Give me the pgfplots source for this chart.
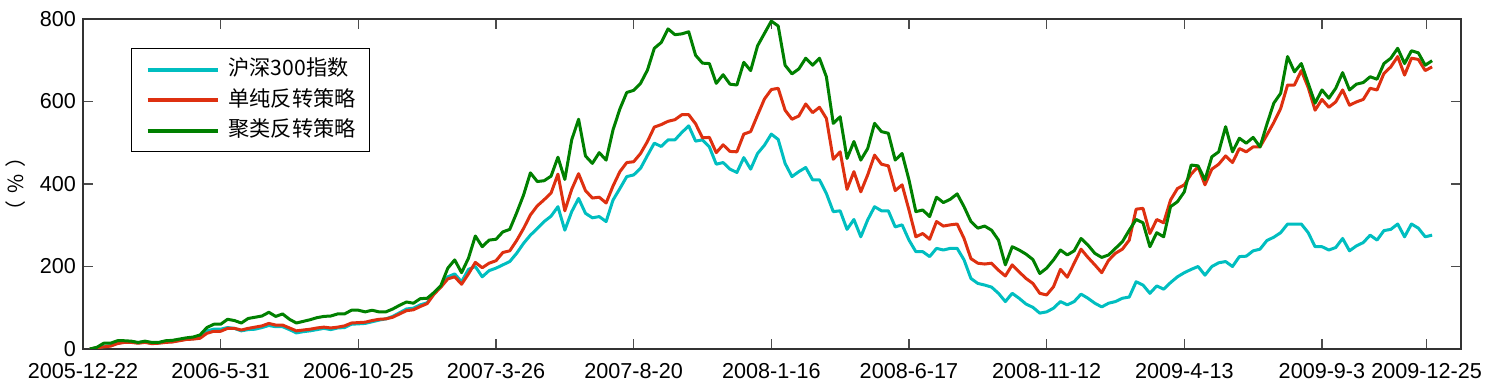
\documentclass[border=0pt]{standalone}
\usepackage{pgfplots}
\usepackage{pgfplotstable}
\pgfplotsset{compat=1.18}
\usepackage{fontspec}
\setmainfont{Liberation Sans}
\newfontfamily\cjk{Noto Sans CJK SC}
\definecolor{cyanl}{RGB}{0,190,192}
\definecolor{redl}{RGB}{222,48,16}
\definecolor{greenl}{RGB}{0,128,0}
\pgfplotstableread{
i cy rd gr
1 0 0 0
2 3 3 4
3 6 5 14
4 8 7 14
5 14 13 20
6 17 16 20
7 17 16 19
8 15 14 16
9 17 16 19
10 14 13 16
11 15 14 16
12 17 16 20
13 18 17 21
14 21 20 24
15 24 23 27
16 25 24 29
17 28 26 34
18 44 38 52
19 48 43 60
20 48 43 60
21 52 50 72
22 50 50 69
23 44 46 63
24 47 50 74
25 48 53 77
26 52 56 80
27 57 62 89
28 54 58 79
29 54 58 85
30 47 51 72
31 39 44 63
32 42 46 67
33 44 48 71
34 47 51 76
35 50 53 79
36 47 51 80
37 51 53 85
38 52 56 85
39 60 63 94
40 61 64 94
41 62 65 90
42 66 69 94
43 70 72 90
44 73 73 90
45 79 77 97
46 88 85 106
47 97 93 114
48 99 95 111
49 107 103 122
50 112 110 123
51 135 133 137
52 152 150 154
53 175 170 196
54 182 175 216
55 163 157 185
56 193 182 220
57 200 210 274
58 175 197 248
59 190 208 264
60 196 214 266
61 204 234 284
62 212 238 290
63 232 263 330
64 256 292 373
65 276 325 427
66 292 347 406
67 309 362 408
68 322 378 419
69 345 424 465
70 288 335 411
71 333 387 507
72 365 425 557
73 329 384 468
74 318 366 450
75 321 368 476
76 309 354 458
77 361 395 531
78 389 430 582
79 418 452 622
80 422 454 627
81 438 474 644
82 469 503 676
83 499 538 729
84 491 544 743
85 507 552 776
86 507 556 762
87 525 568 764
88 541 568 769
89 504 546 712
90 507 512 693
91 490 513 692
92 448 476 644
93 452 495 665
94 436 479 642
95 428 478 640
96 464 521 695
97 436 527 675
98 474 567 735
99 494 606 765
100 521 629 795
101 508 632 783
102 450 579 688
103 418 557 667
104 430 565 679
105 440 594 705
106 410 573 688
107 410 586 705
108 377 559 660
109 333 460 547
110 335 478 563
111 290 387 462
112 314 430 503
113 272 381 458
114 313 422 486
115 345 470 547
116 335 448 527
117 335 444 523
118 296 384 458
119 301 398 474
120 264 337 410
121 236 272 333
122 236 280 337
123 224 266 321
124 244 309 368
125 240 298 355
126 244 301 363
127 244 303 376
128 216 268 345
129 171 219 309
130 159 208 293
131 155 206 298
132 150 208 288
133 135 191 264
134 115 177 204
135 135 204 248
136 123 187 240
137 109 171 230
138 101 159 217
139 87 135 183
140 90 131 196
141 99 151 216
142 115 193 240
143 107 174 228
144 115 208 238
145 133 242 268
146 123 222 252
147 111 204 232
148 102 185 222
149 111 215 228
150 115 232 244
151 123 242 260
152 126 264 288
153 163 339 314
154 155 341 306
155 135 280 248
156 153 314 282
157 145 306 272
158 161 361 345
159 175 389 357
160 185 398 381
161 193 424 446
162 200 442 444
163 179 398 410
164 200 436 466
165 209 448 478
166 212 468 539
167 200 452 478
168 224 486 511
169 225 478 499
170 238 490 513
171 242 490 490
172 263 519 545
173 271 549 596
174 282 583 620
175 303 640 709
176 303 640 672
177 303 675 692
178 282 634 644
179 248 579 596
180 248 605 628
181 240 586 608
182 246 599 632
183 268 628 670
184 238 591 628
185 250 599 642
186 258 605 646
187 276 632 660
188 264 628 654
189 287 668 692
190 290 684 705
191 303 709 729
192 272 664 692
193 303 705 723
194 293 702 718
195 272 675 688
196 276 684 699
}\datatable
\begin{document}
\begin{tikzpicture}
\path[use as bounding box] (-41.5pt,-20.5pt) rectangle (702.5pt,174.5pt);
\begin{axis}[
  at={(0pt,0pt)}, anchor=south west,
  scale only axis, width=689pt, height=165pt,
  xmin=0, xmax=200.2, ymin=0, ymax=800,
  xtick={0,20,40,60,80,100,120,140,160,180,195.2},
  xticklabels={2005-12-22,2006-5-31,2006-10-25,2007-3-26,2007-8-20,2008-1-16,2008-6-17,2008-11-12,2009-4-13,2009-9-3,2009-12-25},
  ytick={0,200,400,600,800},
  tick align=inside, major tick length=5pt,
  tick style={black!70, line width=0.6pt},
  axis line style={black!80, line width=0.6pt},
  tick label style={font=\fontsize{10.8}{13}\selectfont},
  xticklabel style={yshift=-3.5pt},
  /pgf/number format/assume math mode=true,
  ylabel={\cjk （\hspace{0.35em}\%\hspace{0.35em}）},
  ylabel style={at={(axis description cs:-0.0486,0.5)}, anchor=center, font=\fontsize{10.4}{12}\selectfont},
  legend style={at={(0.0348,0.912)}, anchor=north west, draw=black, line width=0.6pt,
    inner xsep=7pt, inner ysep=5.5pt, row sep=5.3pt, column sep=4.5pt,
    nodes={inner sep=0pt, text height=8pt, text depth=2pt},
    font=\fontsize{10.6}{12}\selectfont},
  legend cell align=left,
  legend image code/.code={\draw[#1, line width=2pt] (0pt,0pt) -- (35pt,0pt);},
  every axis plot/.append style={line width=1.5pt, line join=round},
]
\addplot[cyanl, no marks] table[x=i, y=cy] {\datatable};
\addlegendentry{\cjk 沪深300指数}
\addplot[redl, no marks] table[x=i, y=rd] {\datatable};
\addlegendentry{\cjk 单纯反转策略}
\addplot[greenl, no marks] table[x=i, y=gr] {\datatable};
\addlegendentry{\cjk 聚类反转策略}
\end{axis}
\end{tikzpicture}
\end{document}
